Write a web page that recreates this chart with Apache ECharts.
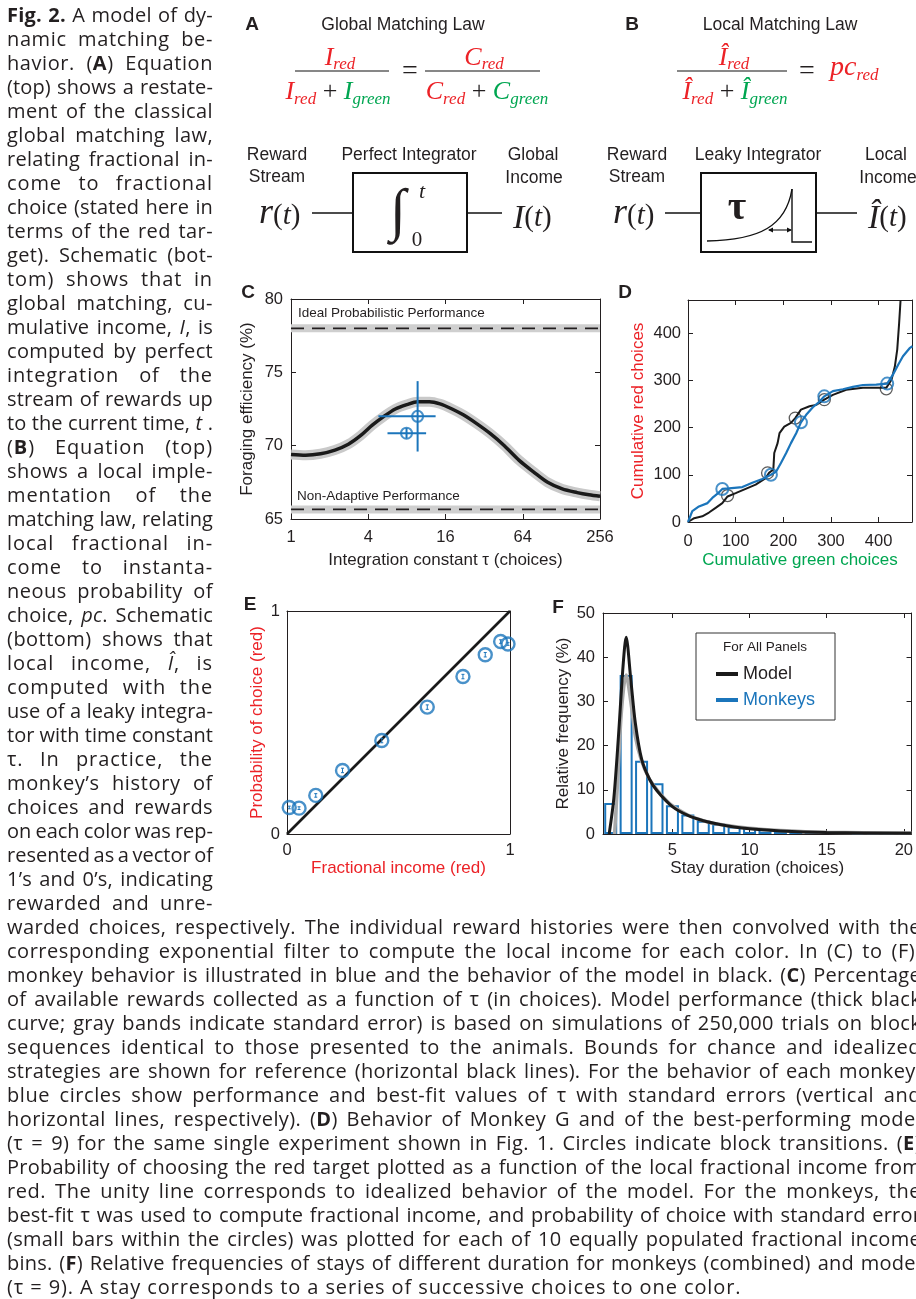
<!DOCTYPE html>
<html><head><meta charset="utf-8">
<script src="https://cdn.jsdelivr.net/npm/echarts@6/dist/echarts.min.js"></script>
<style>
html,body{margin:0;padding:0;background:#fff;overflow:hidden;width:916px;height:1299px;}
#chart{position:absolute;left:0;top:0;width:916px;height:1299px;}
#cap{position:absolute;left:0;top:0;width:916px;height:1299px;overflow:hidden;pointer-events:none;font-family:"Open Sans";font-size:20px;color:#231f20;}
.ln{position:absolute;white-space:nowrap;height:24px;line-height:24px;}
.ln b{font-weight:700;}
</style></head><body>
<div id="chart"></div><div id="cap"></div>
<script>
// ---------------- DATA ----------------
// Panel C: foraging efficiency vs integration constant tau
const cTau = [1, 1.3, 1.7, 2.2, 2.8, 3.5, 4.3, 5.3, 6.5, 8, 9.7, 12, 14.5, 18, 22, 28, 36, 46, 60, 78, 100, 130, 170, 210, 256];
const cEff = [69.4, 69.35, 69.45, 69.7, 70.1, 70.7, 71.4, 72.0, 72.5, 72.8, 73.0, 73.0, 72.85, 72.5, 72.1, 71.5, 70.8, 70.0, 69.0, 68.2, 67.5, 67.05, 66.8, 66.65, 66.55];
const cIdeal = 78.0;
const cNonAdaptive = 65.65;
const cMonkeyTau = [9.7, 7.95];
const cMonkeyEff = [72.0, 70.85];
const cTauLo = [4.8, 5.65];
const cTauHi = [13.4, 11.3];
const cEffLo = [69.6, 70.5];
const cEffHi = [74.4, 71.2];
const cTicks = [1, 4, 16, 64, 256];

// Panel D: cumulative choices
const dModelGreen = [0, 13, 30, 44, 58, 72, 83, 100, 121, 142, 163, 170, 179, 181, 188, 192, 202, 216, 225, 237, 255, 269, 286, 304, 332, 367, 409, 416, 427, 434, 439, 443, 446];
const dModelRed   = [0, 8, 12, 20, 30, 40, 54, 61, 70, 79, 93, 104, 111, 146, 167, 188, 202, 210, 220, 238, 245, 248, 259, 269, 280, 284, 284, 284, 301, 329, 365, 421, 470];
const dMonkeyGreen = [0, 9, 23, 41, 51, 62, 72, 86, 114, 135, 156, 174, 185, 195, 206, 216, 227, 237, 248, 262, 276, 286, 304, 325, 346, 367, 395, 418, 430, 441, 451, 465, 471];
const dMonkeyRed   = [0, 23, 33, 40, 51, 60, 70, 71, 74, 83, 91, 100, 107, 125, 146, 167, 188, 211, 227, 243, 255, 266, 277, 281, 286, 290, 291, 293, 312, 333, 351, 368, 372];
const dModelTransGreen = [83, 167, 225, 286, 416];
const dModelTransRed   = [56, 104, 220, 259, 282];
const dMonkeyTransGreen = [72, 174, 237, 286, 418];
const dMonkeyTransRed   = [70, 100, 211, 266, 293];
const dTicks = [0, 100, 200, 300, 400];

// Panel E: probability of choice vs fractional income
const eIncome = [0.01, 0.054, 0.129, 0.249, 0.425, 0.629, 0.789, 0.889, 0.958, 0.991];
const eChoice = [0.119, 0.116, 0.173, 0.285, 0.419, 0.569, 0.706, 0.804, 0.863, 0.852];
const eErr    = [0.006, 0.006, 0.008, 0.01, 0.01, 0.01, 0.01, 0.01, 0.008, 0.006];

// Panel F: stay durations
const fDuration = [1, 2, 3, 4, 5, 6, 7, 8, 9, 10, 11, 12, 13, 14, 15, 16, 17, 18, 19, 20];
const fMonkeys  = [7.0, 36.0, 16.6, 11.5, 6.5, 4.4, 3.0, 2.3, 1.7, 1.4, 1.1, 0.8, 0.6, 0.5, 0.45, 0.4, 0.35, 0.3, 0.3, 0.3];
const fModelX = [0.9, 1.2, 1.5, 1.8, 2.0, 2.3, 2.6, 3.0, 3.5, 4, 5, 6, 7, 8, 9, 10, 12, 15, 20.5];
const fModelY = [0, 8, 22, 38, 44.5, 35, 25, 17, 12.5, 9.8, 6.2, 4.2, 3, 2.2, 1.6, 1.2, 0.7, 0.35, 0.15];
const fFitX = [1.25, 1.45, 1.7, 2.0, 2.3, 2.6, 3.0, 3.5, 4, 4.5, 5, 6, 7, 8, 10, 12, 15, 20.5];
const fFitY = [0, 12, 28, 36, 30, 22, 16.5, 12.5, 10, 8, 6.4, 4.3, 3, 2.2, 1.3, 0.8, 0.4, 0.2];
const fXTicks = [5, 10, 15, 20];

// Caption
const captionLeft = [
 '<b>Fig. 2.</b> A model of dy-',
 'namic matching be-',
 'havior. (<b>A</b>) Equation',
 '(top) shows a restate-',
 'ment of the classical',
 'global matching law,',
 'relating fractional in-',
 'come to fractional',
 'choice (stated here in',
 'terms of the red tar-',
 'get). Schematic (bot-',
 'tom) shows that in',
 'global matching, cu-',
 'mulative income, <i>I</i>, is',
 'computed by perfect',
 'integration of the',
 'stream of rewards up',
 'to the current time, <i>t</i> .',
 '(<b>B</b>) Equation (top)',
 'shows a local imple-',
 'mentation of the',
 'matching law, relating',
 'local fractional in-',
 'come to instanta-',
 'neous probability of',
 'choice, <i>pc</i>. Schematic',
 '(bottom) shows that',
 'local income, <i>Î</i>, is',
 'computed with the',
 'use of a leaky integra-',
 'tor with time constant',
 'τ. In practice, the',
 'monkey’s history of',
 'choices and rewards',
 'on each color was rep-',
 'resented as a vector of',
 '1’s and 0’s, indicating',
 'rewarded and unre-'
];
const captionBottom = [
 'warded choices, respectively. The individual reward histories were then convolved with the',
 'corresponding exponential filter to compute the local income for each color. In (C) to (F),',
 'monkey behavior is illustrated in blue and the behavior of the model in black. (<b>C</b>) Percentage',
 'of available rewards collected as a function of τ (in choices). Model performance (thick black',
 'curve; gray bands indicate standard error) is based on simulations of 250,000 trials on block',
 'sequences identical to those presented to the animals. Bounds for chance and idealized',
 'strategies are shown for reference (horizontal black lines). For the behavior of each monkey,',
 'blue circles show performance and best-fit values of τ with standard errors (vertical and',
 'horizontal lines, respectively). (<b>D</b>) Behavior of Monkey G and of the best-performing model',
 '(τ = 9) for the same single experiment shown in Fig. 1. Circles indicate block transitions. (<b>E</b>)',
 'Probability of choosing the red target plotted as a function of the local fractional income from',
 'red. The unity line corresponds to idealized behavior of the model. For the monkeys, the',
 'best-fit τ was used to compute fractional income, and probability of choice with standard error',
 '(small bars within the circles) was plotted for each of 10 equally populated fractional income',
 'bins. (<b>F</b>) Relative frequencies of stays of different duration for monkeys (combined) and model',
 '(τ = 9). A stay corresponds to a series of successive choices to one color.'
];

// ---------------- CAPTION (HTML text) ----------------
const cap = document.getElementById('cap');
function addLine(html, x, y, w, justify) {
  const d = document.createElement('div'); d.className = 'ln';
  d.style.left = x + 'px'; d.style.top = y + 'px';
  const s = document.createElement('span'); s.innerHTML = html; d.appendChild(s); cap.appendChild(d);
  if (justify) {
    const nat = s.getBoundingClientRect().width;
    const chars = s.textContent.length;
    const extra = w - nat;
    if (extra > 0) s.style.letterSpacing = Math.min(0.9, extra * 0.5 / chars) + 'px';
    const nat2 = s.getBoundingClientRect().width;
    const n = (s.textContent.match(/ /g) || []).length;
    if (n > 0) s.style.wordSpacing = ((w - nat2) / n) + 'px';
  } else {
    s.style.letterSpacing = '0.9px';
  }
}
function layoutCaption() {
  cap.innerHTML = '';
  captionLeft.forEach((h, i) => addLine(h, 7, 3 + 24 * i, 206, true));
  captionBottom.forEach((h, i) => addLine(h, 7, 3 + 24 * (38 + i), 914, i < captionBottom.length - 1));
}
layoutCaption();

// ---------------- CHART ----------------
const INK = '#231f20', BLUE = '#1b75bb', RED = '#ec2227', GREEN = '#00a651';
const SANS = '"Liberation Sans", Arial, sans-serif';
const SERIF = '"Liberation Serif", "Times New Roman", serif';

function ax(gi, type, pos, o) {
  const a = {
    gridIndex: gi, type: type, position: pos,
    splitLine: { show: false },
    axisLine: { show: true, onZero: false, lineStyle: { color: INK, width: 1 } },
    axisTick: { show: true, inside: true, length: 5, lineStyle: { color: INK, width: 1 } },
    axisLabel: { show: true, color: INK, fontFamily: SANS, fontSize: 16.5 },
    nameLocation: 'middle',
    nameTextStyle: { fontFamily: SANS, fontSize: 17, color: INK }
  };
  for (const k in o) {
    if (a[k] && typeof a[k] === 'object' && !Array.isArray(a[k]) && typeof o[k] === 'object' && !Array.isArray(o[k])) a[k] = Object.assign({}, a[k], o[k]);
    else a[k] = o[k];
  }
  return a;
}
const noLab = { show: false };

const xAxes = [
  ax(0, 'log', 'bottom', { logBase: 4, min: 1, max: 256, axisLabel: { margin: 10 }, name: 'Integration constant τ (choices)', nameGap: 33 }),
  ax(0, 'log', 'top', { logBase: 4, min: 1, max: 256, axisLabel: noLab }),
  ax(1, 'value', 'bottom', { min: 0, max: 470, interval: 100, axisLabel: { margin: 11, customValues: dTicks }, axisTick: { customValues: dTicks }, name: 'Cumulative green choices', nameGap: 30, nameTextStyle: { color: GREEN } }),
  ax(1, 'value', 'top', { min: 0, max: 470, interval: 100, axisLabel: noLab, axisTick: { customValues: dTicks } }),
  ax(2, 'value', 'bottom', { min: 0, max: 1, interval: 1, axisTick: { show: false }, axisLabel: { margin: 8 }, name: 'Fractional income (red)', nameGap: 26, nameTextStyle: { color: RED } }),
  ax(2, 'value', 'top', { min: 0, max: 1, interval: 1, axisTick: { show: false }, axisLabel: noLab }),
  ax(3, 'value', 'bottom', { min: 0.5, max: 20.5, axisLabel: { margin: 8, customValues: fXTicks }, axisTick: { customValues: fXTicks }, name: 'Stay duration (choices)', nameGap: 26 }),
  ax(3, 'value', 'top', { min: 0.5, max: 20.5, axisLabel: noLab, axisTick: { customValues: fXTicks } })
];
const yAxes = [
  ax(0, 'value', 'left', { min: 65, max: 80, interval: 5, axisLabel: { margin: 8 }, name: 'Foraging efficiency (%)', nameGap: 35 }),
  ax(0, 'value', 'right', { min: 65, max: 80, interval: 5, axisLabel: noLab }),
  ax(1, 'value', 'left', { min: 0, max: 470, interval: 100, axisLabel: { margin: 7, customValues: dTicks }, axisTick: { customValues: dTicks }, name: 'Cumulative red choices', nameGap: 41, nameTextStyle: { color: RED } }),
  ax(1, 'value', 'right', { min: 0, max: 470, interval: 100, axisLabel: noLab, axisTick: { customValues: dTicks } }),
  ax(2, 'value', 'left', { min: 0, max: 1, interval: 1, axisTick: { show: false }, axisLabel: { margin: 7 }, name: 'Probability of choice (red)', nameGap: 21, nameTextStyle: { color: RED } }),
  ax(2, 'value', 'right', { min: 0, max: 1, interval: 1, axisTick: { show: false }, axisLabel: noLab }),
  ax(3, 'value', 'left', { min: 0, max: 50, interval: 10, axisLabel: { margin: 8 }, name: 'Relative frequency (%)', nameGap: 31 }),
  ax(3, 'value', 'right', { min: 0, max: 50, interval: 10, axisLabel: noLab })
];

const zip = (a, b) => a.map((v, i) => [v, b[i]]);
const lineS = (xi, data, color, width, extra) => Object.assign({
  type: 'line', xAxisIndex: xi, yAxisIndex: xi, data: data, symbol: 'none', silent: true,
  lineStyle: { color: color, width: width }, animation: false
}, extra || {});

const series = [
  // ---- C ----
  lineS(0, [[1, cIdeal], [256, cIdeal]], '#cfcfcf', 8),
  lineS(0, [[1, cNonAdaptive], [256, cNonAdaptive]], '#cfcfcf', 8),
  lineS(0, [[1, cIdeal], [256, cIdeal]], INK, 1.8, { lineStyle: { color: INK, width: 1.8, type: [13, 8] } }),
  lineS(0, [[1, cNonAdaptive], [256, cNonAdaptive]], INK, 1.8, { lineStyle: { color: INK, width: 1.8, type: [13, 8] } }),
  lineS(0, zip(cTau, cEff), '#c9c9c9', 10, { smooth: 0.3 }),
  lineS(0, zip(cTau, cEff), '#1a1a1a', 3.5, { smooth: 0.3 }),
  {
    type: 'custom', xAxisIndex: 0, yAxisIndex: 0, silent: true, z: 5,
    data: cMonkeyTau.map((t, i) => [t, cMonkeyEff[i], cTauLo[i], cTauHi[i], cEffLo[i], cEffHi[i]]),
    encode: { x: 0, y: 1 },
    renderItem: (p, api) => {
      const x = api.value(0), y = api.value(1);
      const a = api.coord([api.value(2), y]), b = api.coord([api.value(3), y]);
      const c = api.coord([x, api.value(4)]), d = api.coord([x, api.value(5)]);
      return { type: 'group', children: [
        { type: 'line', shape: { x1: a[0], y1: a[1], x2: b[0], y2: b[1] }, style: { stroke: BLUE, lineWidth: 2 } },
        { type: 'line', shape: { x1: c[0], y1: c[1], x2: d[0], y2: d[1] }, style: { stroke: BLUE, lineWidth: 2 } }
      ] };
    }
  },
  { type: 'scatter', xAxisIndex: 0, yAxisIndex: 0, silent: true, z: 6, data: zip(cMonkeyTau, cMonkeyEff),
    symbol: 'circle', symbolSize: 11, itemStyle: { color: 'rgba(0,0,0,0)', borderColor: BLUE, borderWidth: 2 } },
  // ---- D ----
  lineS(2, zip(dModelGreen, dModelRed), '#1a1a1a', 2),
  { type: 'scatter', xAxisIndex: 2, yAxisIndex: 2, silent: true, data: zip(dModelTransGreen, dModelTransRed),
    symbol: 'circle', symbolSize: 12, itemStyle: { color: 'rgba(0,0,0,0)', borderColor: '#333', borderWidth: 1.3 } },
  lineS(2, zip(dMonkeyGreen, dMonkeyRed), BLUE, 2.2, { z: 4 }),
  { type: 'scatter', xAxisIndex: 2, yAxisIndex: 2, silent: true, z: 5, data: zip(dMonkeyTransGreen, dMonkeyTransRed),
    symbol: 'circle', symbolSize: 12, itemStyle: { color: 'rgba(0,0,0,0)', borderColor: BLUE, borderWidth: 2 } },
  // ---- E ----
  lineS(4, [[0, 0], [1, 1]], '#1a1a1a', 2.6),
  {
    type: 'custom', xAxisIndex: 4, yAxisIndex: 4, silent: true, z: 5,
    data: eIncome.map((x, i) => [x, eChoice[i], eChoice[i] - eErr[i], eChoice[i] + eErr[i]]),
    encode: { x: 0, y: 1 },
    renderItem: (p, api) => {
      const x = api.value(0);
      const lo = api.coord([x, api.value(2)]), hi = api.coord([x, api.value(3)]);
      const st = { stroke: BLUE, lineWidth: 1 };
      return { type: 'group', children: [
        { type: 'line', shape: { x1: lo[0], y1: lo[1], x2: hi[0], y2: hi[1] }, style: st },
        { type: 'line', shape: { x1: lo[0] - 1.5, y1: lo[1], x2: lo[0] + 1.5, y2: lo[1] }, style: st },
        { type: 'line', shape: { x1: hi[0] - 1.5, y1: hi[1], x2: hi[0] + 1.5, y2: hi[1] }, style: st }
      ] };
    }
  },
  { type: 'scatter', xAxisIndex: 4, yAxisIndex: 4, silent: true, z: 6, data: zip(eIncome, eChoice),
    symbol: 'circle', symbolSize: 13, itemStyle: { color: 'rgba(0,0,0,0)', borderColor: BLUE, borderWidth: 2.4 } },
  // ---- F ----
  lineS(6, zip(fFitX, fFitY), '#a9a9a9', 3.5, { smooth: 0.3 }),
  lineS(6, zip(fModelX, fModelY), '#1a1a1a', 3, { smooth: 0.3, name: 'Model' }),
  { type: 'bar', name: 'Monkeys', xAxisIndex: 6, yAxisIndex: 6, silent: true, z: 3, barWidth: 13,
    data: zip(fDuration, fMonkeys),
    itemStyle: { color: 'rgba(255,255,255,0)', borderColor: BLUE, borderWidth: 2 } }
];

// ---------------- GRAPHIC: panels A/B, letters, annotations ----------------
const G = [];
function txt(t, x, y, o) {
  const st = Object.assign({ text: t, fill: INK, font: '17.5px ' + SANS, align: 'center', verticalAlign: 'middle' }, o || {});
  st.textAlign = st.align; st.textVerticalAlign = st.verticalAlign;
  G.push({ type: 'text', x: x, y: y, silent: true, style: st });
}
function ln(x1, y1, x2, y2, w) { G.push({ type: 'line', silent: true, shape: { x1, y1, x2, y2 }, style: { stroke: '#111', lineWidth: w || 1.6 } }); }
const mctx = document.createElement('canvas').getContext('2d');
function tw(t, font) { mctx.font = font; return mctx.measureText(t).width; }
// runs placed left to right, centered at cx; each run: [text, size, color, baseline, italic]
function eqRow(cx, runs) {
  const rs = runs.map(r => { const font = (r[4] ? 'italic ' : '') + r[1] + 'px ' + SERIF; return { t: r[0], font, size: r[1], color: r[2], by: r[3], w: tw(r[0], font) }; });
  const total = rs.reduce((s, r) => s + r.w, 0);
  let x = cx - total / 2;
  rs.forEach(r => { txt(r.t, x, r.by - 0.34 * r.size, { font: r.font, fill: r.color, align: 'left' }); x += r.w; });
}
function eqLeft(x0, runs) {
  let x = x0;
  runs.forEach(r => { const font = (r[4] ? 'italic ' : '') + r[1] + 'px ' + SERIF; txt(r[0], x, r[3] - 0.34 * r[1], { font, fill: r[2], align: 'left' }); x += tw(r[0], font); });
}
const BOLD = 'bold 19px ' + SANS;
// letters
txt('A', 252, 25, { font: BOLD }); txt('B', 632, 25, { font: BOLD });
txt('C', 248, 293, { font: BOLD }); txt('D', 625, 293, { font: BOLD });
txt('E', 250, 605, { font: BOLD }); txt('F', 558, 608, { font: BOLD });
// titles
txt('Global Matching Law', 403, 25, { font: '17.5px ' + SANS });
txt('Local Matching Law', 780, 25, { font: '17.5px ' + SANS });
// Equation A
const M = 26, S = 17;
eqRow(340, [['I', M, RED, 67, 1], ['red', S, RED, 70, 1]]);
ln(295, 71, 389, 71, 1.2);
eqRow(338, [['I', M, RED, 101, 1], ['red', S, RED, 105.5, 1], [' + ', M, INK, 101, 0], ['I', M, GREEN, 101, 1], ['green', S, GREEN, 105.5, 1]]);
txt('=', 410, 72, { font: '28px ' + SERIF });
eqRow(484, [['C', M, RED, 67, 1], ['red', S, RED, 70, 1]]);
ln(425, 71, 540, 71, 1.2);
eqRow(487, [['C', M, RED, 101, 1], ['red', S, RED, 105.5, 1], [' + ', M, INK, 101, 0], ['C', M, GREEN, 101, 1], ['green', S, GREEN, 105.5, 1]]);
// Equation B
eqRow(734, [['Î', M, RED, 67, 1], ['red', S, RED, 70, 1]]);
ln(677, 71, 787, 71, 1.2);
eqRow(735, [['Î', M, RED, 101, 1], ['red', S, RED, 105.5, 1], [' + ', M, INK, 101, 0], ['Î', M, GREEN, 101, 1], ['green', S, GREEN, 105.5, 1]]);
txt('=', 807, 72, { font: '28px ' + SERIF });
eqLeft(830, [['pc', 28, RED, 77, 1], ['red', S, RED, 81, 1]]);
// Schematic A
const LF = '17.5px ' + SANS;
txt('Reward', 277, 155, { font: LF }); txt('Stream', 277, 177, { font: LF });
txt('Perfect Integrator', 409, 155, { font: LF });
txt('Global', 533, 155, { font: LF }); txt('Income', 534, 178, { font: LF });
G.push({ type: 'rect', silent: true, shape: { x: 353, y: 173, width: 114, height: 79 }, style: { fill: 'none', stroke: '#111', lineWidth: 2 } });
ln(312, 213, 353, 213); ln(467, 213, 502, 213);
eqLeft(259, [['r', 36, INK, 226, 1], ['(', 29, INK, 226, 0], ['t', 29, INK, 226, 1], [')', 29, INK, 226, 0]]);
eqLeft(513, [['I', 34, INK, 231, 1], ['(', 29, INK, 228, 0], ['t', 29, INK, 228, 1], [')', 29, INK, 228, 0]]);
txt('∫', 398, 214, { font: 'bold 58px ' + SERIF });
txt('t', 422, 192, { font: 'italic 22px ' + SERIF });
txt('0', 417, 240, { font: '21px ' + SERIF });
// Schematic B
txt('Reward', 637, 155, { font: LF }); txt('Stream', 637, 177, { font: LF });
txt('Leaky Integrator', 758, 155, { font: LF });
txt('Local', 886, 155, { font: LF }); txt('Income', 888, 178, { font: LF });
G.push({ type: 'rect', silent: true, shape: { x: 701, y: 173, width: 115, height: 79 }, style: { fill: 'none', stroke: '#111', lineWidth: 2 } });
ln(665, 213, 701, 213); ln(816, 213, 857, 213);
eqLeft(613, [['r', 36, INK, 226, 1], ['(', 29, INK, 226, 0], ['t', 29, INK, 226, 1], [')', 29, INK, 226, 0]]);
eqLeft(868, [['Î', 34, INK, 231, 1], ['(', 29, INK, 228, 0], ['t', 29, INK, 228, 1], [')', 29, INK, 228, 0]]);
txt('τ', 737, 209, { font: 'bold 40px ' + SERIF });
G.push({ type: 'bezierCurve', silent: true, shape: { x1: 707, y1: 241, cpx1: 760, cpy1: 240, cpx2: 786, cpy2: 226, x2: 792, y2: 189 }, style: { fill: 'none', stroke: '#111', lineWidth: 1.4 } });
G.push({ type: 'polyline', silent: true, shape: { points: [[792, 189], [792, 242], [812, 242]] }, style: { fill: 'none', stroke: '#111', lineWidth: 1.4 } });
ln(769, 230, 791, 230, 1.1);
G.push({ type: 'polygon', silent: true, shape: { points: [[768, 230], [773, 227.5], [773, 232.5]] }, style: { fill: '#111' } });
G.push({ type: 'polygon', silent: true, shape: { points: [[792, 230], [787, 227.5], [787, 232.5]] }, style: { fill: '#111' } });
// Panel C annotations
txt('Ideal Probabilistic Performance', 298, 313, { font: '13.5px ' + SANS, align: 'left' });
txt('Non-Adaptive Performance', 297, 496, { font: '13.5px ' + SANS, align: 'left' });
// Panel F legend box
G.push({ type: 'rect', silent: true, z: 10, shape: { x: 696, y: 633, width: 139, height: 87 }, style: { fill: '#fff', stroke: '#333', lineWidth: 1 } });
G.push({ type: 'text', silent: true, z: 11, x: 765, y: 647, style: { text: 'For All Panels', font: '13.5px ' + SANS, fill: INK, align: 'center', verticalAlign: 'middle', textAlign: 'center', textVerticalAlign: 'middle' } });

const option = {
  animation: false,
  backgroundColor: 'transparent',
  grid: [
    { left: 291, top: 299, width: 309, height: 220 },
    { left: 688, top: 300, width: 224, height: 222 },
    { left: 287, top: 611, width: 223, height: 223 },
    { left: 603, top: 613, width: 309, height: 221 }
  ],
  xAxis: xAxes,
  yAxis: yAxes,
  legend: {
    left: 711, top: 660, orient: 'vertical', z: 20, selectedMode: false,
    itemWidth: 22, itemHeight: 4, itemGap: 8, icon: 'rect',
    textStyle: { fontFamily: SANS, fontSize: 18, color: INK },
    data: [
      { name: 'Model', itemStyle: { color: '#1a1a1a', borderWidth: 0 } },
      { name: 'Monkeys', itemStyle: { color: BLUE, borderWidth: 0 }, textStyle: { color: BLUE } }
    ]
  },
  series: series,
  graphic: { elements: G }
};
const chart = echarts.init(document.getElementById('chart'), null, { renderer: 'canvas', width: 916, height: 1299 });
chart.setOption(option);
</script>
</body></html>
